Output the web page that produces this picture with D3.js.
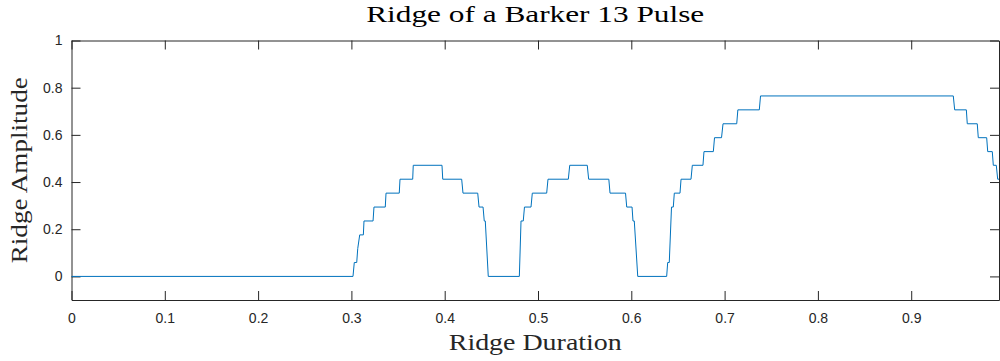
<!DOCTYPE html>
<html>
<head>
<meta charset="utf-8">
<script src="https://cdn.jsdelivr.net/npm/d3@7"></script>
<style>
  body { margin: 0; background: #fff; }
  svg { display: block; }
</style>
</head>
<body>
<div id="ridge"></div>
<script>
  // Ridge samples (duration, amplitude)
  var ridgeX = [0, 0.3017, 0.3031, 0.3057, 0.3068, 0.3089, 0.3128, 0.3135, 0.3232, 0.3242,
    0.3363, 0.3371, 0.3513, 0.3521, 0.3657, 0.3663, 0.3971, 0.3979, 0.4182, 0.4196,
    0.4354, 0.4368, 0.4411, 0.4424, 0.4435, 0.4467, 0.4800, 0.4818, 0.4842, 0.4855,
    0.4925, 0.4939, 0.5093, 0.5107, 0.5325, 0.5340, 0.5528, 0.5543, 0.5759, 0.5772,
    0.5938, 0.5951, 0.6008, 0.6018, 0.6032, 0.6069, 0.6379, 0.6390, 0.6407, 0.6431,
    0.6450, 0.6461, 0.6522, 0.6533, 0.6640, 0.6654, 0.6768, 0.6779, 0.6879, 0.6892,
    0.6967, 0.6983, 0.7130, 0.7142, 0.7372, 0.7385, 0.9451, 0.9466, 0.9591, 0.9601,
    0.9708, 0.9719, 0.9809, 0.9820, 0.9869, 0.9880, 0.9912, 0.9927, 0.9941]
  var ridgeY = [0, 0, 0.059, 0.059, 0.118, 0.176, 0.176, 0.235, 0.235, 0.294,
    0.294, 0.353, 0.353, 0.412, 0.412, 0.471, 0.471, 0.412, 0.412, 0.353,
    0.353, 0.294, 0.294, 0.235, 0.235, 0, 0, 0.235, 0.235, 0.294,
    0.294, 0.353, 0.353, 0.412, 0.412, 0.471, 0.471, 0.412, 0.412, 0.353,
    0.353, 0.294, 0.294, 0.235, 0.235, 0, 0, 0.059, 0.059, 0.294,
    0.294, 0.353, 0.353, 0.412, 0.412, 0.471, 0.471, 0.529, 0.529, 0.588,
    0.588, 0.647, 0.647, 0.706, 0.706, 0.765, 0.765, 0.706, 0.706, 0.647,
    0.647, 0.588, 0.588, 0.529, 0.529, 0.471, 0.471, 0.412, 0.412]

  var xTicks = [0, 0.1, 0.2, 0.3, 0.4, 0.5, 0.6, 0.7, 0.8, 0.9]
  var yTicks = [0, 0.2, 0.4, 0.6, 0.8, 1]

  var width = 1000
  var height = 361
  var margin = { left: 71.5, right: 1, top: 40.5, bottom: 61 }

  var svg = d3.select("#ridge")
    .append("svg")
    .attr("width", width)
    .attr("height", height)

  var x = d3.scaleLinear()
    .domain([0, 0.9941])
    .range([margin.left, width - margin.right])

  var y = d3.scaleLinear()
    .domain([-0.1, 1])
    .range([height - margin.bottom, margin.top])

  var axisColor = "#262626"
  var tickFont = "'Liberation Sans', Arial, sans-serif"
  var labelFont = "'Liberation Serif', 'Times New Roman', serif"

  // Axes with inward ticks on all four sides
  function styleAxis(g) {
    g.selectAll("path").attr("stroke", axisColor)
    g.selectAll("line").attr("stroke", axisColor)
    g.selectAll("text")
      .attr("fill", axisColor)
      .style("font-family", tickFont)
      .style("font-size", "14px")
  }

  svg.append("g")
    .attr("transform", `translate(0,${y(-0.1)})`)
    .call(d3.axisBottom(x).tickValues(xTicks).tickFormat(d3.format("")).tickSizeInner(-9).tickSizeOuter(0).tickPadding(13))
    .call(styleAxis)

  svg.append("g")
    .attr("transform", `translate(0,${y(1)})`)
    .call(d3.axisTop(x).tickValues(xTicks).tickFormat("").tickSizeInner(-9).tickSizeOuter(0))
    .call(styleAxis)

  svg.append("g")
    .attr("transform", `translate(${x(0)},0)`)
    .call(d3.axisLeft(y).tickValues(yTicks).tickFormat(d3.format("")).tickSizeInner(-9).tickSizeOuter(0).tickPadding(9))
    .call(styleAxis)

  svg.append("g")
    .attr("transform", `translate(${x(0.9941)},0)`)
    .call(d3.axisRight(y).tickValues(yTicks).tickFormat("").tickSizeInner(-9).tickSizeOuter(0))
    .call(styleAxis)

  // The ridge line
  var line = d3.line()
    .x(function (d, i) { return x(ridgeX[i]) })
    .y(function (d) { return y(d) })

  svg.append("path")
    .datum(ridgeY)
    .attr("fill", "none")
    .attr("stroke", "#0072BD")
    .attr("stroke-width", 1)
    .attr("d", line)

  // Titles, stretched a little to the width of the LaTeX lettering
  var midX = (x(0) + x(0.9941)) / 2

  svg.append("text")
    .attr("x", midX)
    .attr("y", 22)
    .attr("text-anchor", "middle")
    .attr("textLength", 338)
    .attr("lengthAdjust", "spacingAndGlyphs")
    .style("font-family", labelFont)
    .style("font-size", "24px")
    .attr("fill", "#000")
    .text("Ridge of a Barker 13 Pulse")

  svg.append("text")
    .attr("x", midX)
    .attr("y", 350)
    .attr("text-anchor", "middle")
    .attr("textLength", 173)
    .attr("lengthAdjust", "spacingAndGlyphs")
    .style("font-family", labelFont)
    .style("font-size", "23px")
    .attr("fill", "#262626")
    .text("Ridge Duration")

  svg.append("text")
    .attr("transform", `translate(27,${(y(-0.1) + y(1)) / 2}) rotate(-90)`)
    .attr("text-anchor", "middle")
    .attr("textLength", 186)
    .attr("lengthAdjust", "spacingAndGlyphs")
    .style("font-family", labelFont)
    .style("font-size", "23px")
    .attr("fill", "#262626")
    .text("Ridge Amplitude")
</script>
</body>
</html>
